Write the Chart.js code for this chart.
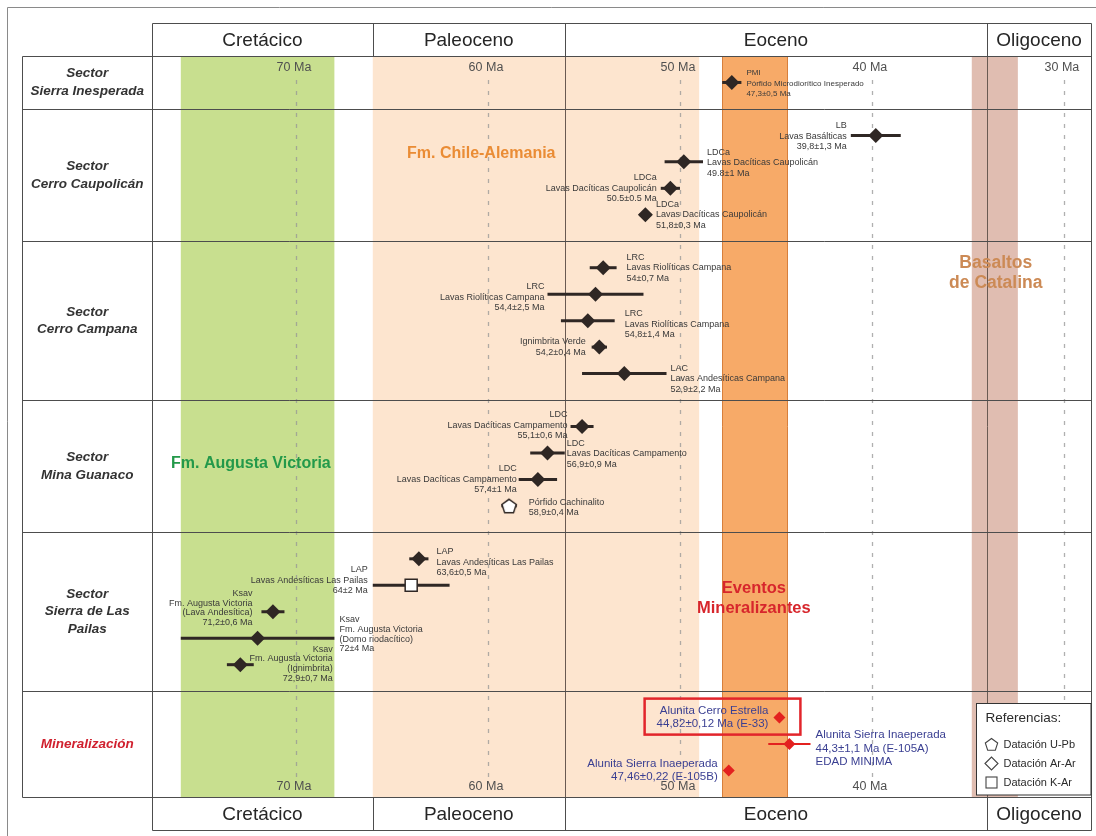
<!DOCTYPE html>
<html>
<head>
<meta charset="utf-8">
<script src="https://cdn.jsdelivr.net/npm/chart.js@4.4.1/dist/chart.umd.min.js"></script>
<style>
  html, body { margin: 0; padding: 0; background: #fff; }
  canvas { display: block; }
</style>
</head>
<body>
<canvas id="chart" width="1096" height="836"></canvas>
<script>
// ---------- time scale ----------
const periodNames = ['Cretácico', 'Paleoceno', 'Eoceno', 'Oligoceno'];
const periodBoundaries = [66, 56, 34];           // Ma
const tickValues = [70, 60, 50, 40, 30];
const tickLabels = ['70 Ma', '60 Ma', '50 Ma', '40 Ma', '30 Ma'];

// ---------- sectors (rows) ----------
const sectorNames = [
  ['Sector', 'Sierra Inesperada'],
  ['Sector', 'Cerro Caupolicán'],
  ['Sector', 'Cerro Campana'],
  ['Sector', 'Mina Guanaco'],
  ['Sector', 'Sierra de Las', 'Pailas'],
  ['Mineralización']
];

// ---------- geological units (age ranges, Ma) ----------
const unitNames = [['Fm. Augusta Victoria'], ['Fm. Chile-Alemania'], ['Eventos', 'Mineralizantes'], ['Basaltos', 'de Catalina']];
const unitOldest = [76, 66, 47.8, 34.8];
const unitYoungest = [68, 49, 44.4, 32.4];

// ---------- dated samples ----------
const sampleSector = [0, 1, 1, 1, 1, 2, 2, 2, 2, 2, 3, 3, 3, 3, 4, 4, 4, 4, 4, 5, 5, 5];
const sampleAge = [47.3, 39.8, 49.8, 50.5, 51.8, 54, 54.4, 54.8, 54.2, 52.9, 55.1, 56.9, 57.4, 58.9, 63.6, 64, 71.2, 72, 72.9, 44.82, 44.3, 47.46];
const sampleError = [0.5, 1.3, 1, 0.5, 0.3, 0.7, 2.5, 1.4, 0.4, 2.2, 0.6, 0.9, 1, 0.4, 0.5, 2, 0.6, 4, 0.7, 0.12, 1.1, 0.22];
const sampleMethod = ['Ar-Ar', 'Ar-Ar', 'Ar-Ar', 'Ar-Ar', 'Ar-Ar', 'Ar-Ar', 'Ar-Ar', 'Ar-Ar', 'Ar-Ar', 'Ar-Ar',
                      'Ar-Ar', 'Ar-Ar', 'Ar-Ar', 'U-Pb', 'Ar-Ar', 'K-Ar', 'Ar-Ar', 'Ar-Ar', 'Ar-Ar', 'Ar-Ar', 'Ar-Ar', 'Ar-Ar'];
const sampleLabel = [
  ['PMI', 'Pórfido Microdiorítico Inesperado', '47,3±0,5 Ma'],
  ['LB', 'Lavas Basálticas', '39,8±1,3 Ma'],
  ['LDCa', 'Lavas Dacíticas Caupolicán', '49.8±1 Ma'],
  ['LDCa', 'Lavas Dacíticas Caupolicán', '50.5±0.5 Ma'],
  ['LDCa', 'Lavas Dacíticas Caupolicán', '51,8±0,3 Ma'],
  ['LRC', 'Lavas Riolíticas Campana', '54±0,7 Ma'],
  ['LRC', 'Lavas Riolíticas Campana', '54,4±2,5 Ma'],
  ['LRC', 'Lavas Riolíticas Campana', '54,8±1,4 Ma'],
  ['Ignimbrita Verde', '54,2±0,4 Ma'],
  ['LAC', 'Lavas Andesíticas Campana', '52,9±2,2 Ma'],
  ['LDC', 'Lavas Dacíticas Campamento', '55,1±0,6 Ma'],
  ['LDC', 'Lavas Dacíticas Campamento', '56,9±0,9 Ma'],
  ['LDC', 'Lavas Dacíticas Campamento', '57,4±1 Ma'],
  ['Pórfido Cachinalito', '58,9±0,4 Ma'],
  ['LAP', 'Lavas Andesíticas Las Pailas', '63,6±0,5 Ma'],
  ['LAP', 'Lavas Andesíticas Las Pailas', '64±2 Ma'],
  ['Ksav', 'Fm. Augusta Victoria', '(Lava Andesítica)', '71,2±0,6 Ma'],
  ['Ksav', 'Fm. Augusta Victoria', '(Domo riodacítico)', '72±4 Ma'],
  ['Ksav', 'Fm. Augusta Victoria', '(Ignimbrita)', '72,9±0,7 Ma'],
  ['Alunita Cerro Estrella', '44,82±0,12 Ma (E-33)'],
  ['Alunita Sierra Inaeperada', '44,3±1,1 Ma (E-105A)', 'EDAD MINIMA'],
  ['Alunita Sierra Inaeperada', '47,46±0,22 (E-105B)']
];

// ---------- legend ----------
const legendTitle = 'Referencias:';
const legendMethods = ['U-Pb', 'Ar-Ar', 'K-Ar'];
const legendLabels = ['Datación U-Pb', 'Datación Ar-Ar', 'Datación K-Ar'];

// ================= layout & styles =================
const FONT = '"Liberation Sans", Arial, Helvetica, sans-serif';
const NARROW = '"Liberation Sans Narrow", "Liberation Sans", Arial, sans-serif';
const FRAME = { outer: 7.5, left: 22.5, headTop: 23.5, footBottom: 830.5 };
const PAD = { left: 152, top: 56, right: 5, bottom: 39 };
const AXIS_OLD = 77.5, AXIS_YOUNG = 28.59;
const INK = '#2f2724';
const RED = '#e3211f';
const LINE = '#4d4d4d';
const unitFill = ['#c8df8f', '#fde5cf', '#f7aa68', '#e0bdb1'];
const unitLabelStyle = [
  { age: 72.35, lane: 15.4, color: '#23994a', size: 16, lh: 20 },
  { age: 60.35, lane: 3.7, color: '#ea8c35', size: 16, lh: 20 },
  { age: 46.15, lane: 20.5, color: '#d7262c', size: 16.5, lh: 20 },
  { age: 33.55, lane: 8.2, color: '#cc8a55', size: 17.5, lh: 20 }
];
const plotBoundaryLines = [56, 34];
const MINERAL = sectorNames.length - 1;

// label placement per sample: side of the marker, gap in px, which line sits at marker height
const labelPlacement = [
  { side: 'r', gap: 5, anchor: 0.9, size: 8 },
  { side: 'l', gap: 4, anchor: 0.9 },
  { side: 'r', gap: 4, anchor: 0.9 },
  { side: 'l', gap: 4, anchor: 1 },
  { side: 'r', gap: 3, anchor: 1 },
  { side: 'r', gap: 10, anchor: 1 },
  { side: 'l', gap: 3, anchor: 0.7 },
  { side: 'r', gap: 10, anchor: 0.65 },
  { side: 'l', gap: 6, anchor: 0.5 },
  { side: 'r', gap: 4, anchor: 0.5 },
  { side: 'l', gap: 3, anchor: 1.1 },
  { side: 'r', gap: 2, anchor: 0.9 },
  { side: 'l', gap: 2, anchor: 1 },
  { side: 'r', gap: 12, anchor: 0.35 },
  { side: 'r', gap: 8, anchor: 0.65 },
  { side: 'l', gap: 5, anchor: 1.5 },
  { side: 'l', gap: 9, anchor: 1.9, lh: 9.7 },
  { side: 'r', gap: 5, anchor: 1.9, lh: 9.7 },
  { side: 'r', gap: 79, anchor: 1.6, lh: 9.7, align: 'right' },
  { side: 'l', gap: 5, anchor: 0.5, size: 11.5, lh: 13, boxed: true },
  { side: 'r', gap: 5, anchor: 0.65, size: 11.5, lh: 13.5 },
  { side: 'l', gap: 5, anchor: 0.5, size: 11.5, lh: 13.5 }
];

// ---------- lanes: one per sample, plus a spacer per sector ----------
const sectorCount = sectorNames.map((_, s) => sampleSector.filter(v => v === s).length);
const sectorStart = [];
let laneAcc = 0;
sectorCount.forEach((n, s) => { sectorStart[s] = laneAcc; laneAcc += n + 1; });
const laneTotal = laneAcc;
const sampleLane = sampleSector.map((s, i) =>
  sectorStart[s] + 1 + sampleSector.slice(0, i).filter(v => v === s).length);

// pentagon marker (U-Pb)
function pentagon(g, cx, cy, r) {
  g.beginPath();
  for (let k = 0; k < 5; k++) {
    const a = -Math.PI / 2 + k * 2 * Math.PI / 5;
    g.lineTo(cx + r * Math.cos(a), cy + r * Math.sin(a));
  }
  g.closePath();
}
function pentagonImage(size, fill, stroke, lw) {
  const c = document.createElement('canvas');
  c.width = size; c.height = size;
  const g = c.getContext('2d');
  pentagon(g, size / 2, size / 2 + 0.8, size / 2 - lw);
  g.fillStyle = fill; g.fill();
  g.lineWidth = lw; g.strokeStyle = stroke; g.stroke();
  return c;
}
const pentImg = pentagonImage(18, '#ffffff', INK, 1.5);

function markerHalf(i) {
  if (sampleSector[i] === MINERAL) return 6;
  if (sampleMethod[i] === 'U-Pb') return 7.5;
  if (sampleMethod[i] === 'K-Ar') return 5.7;
  return 7.5;
}

function points(filter) {
  return sampleAge.map((a, i) => ({ x: a, y: sampleLane[i], i })).filter(p => filter(p.i));
}

// ---------- drawing helpers ----------
function hLine(ctx, x1, x2, y) { ctx.beginPath(); ctx.moveTo(x1, y); ctx.lineTo(x2, y); ctx.stroke(); }
function vLine(ctx, x, y1, y2) { ctx.beginPath(); ctx.moveTo(x, y1); ctx.lineTo(x, y2); ctx.stroke(); }
const snap = v => Math.round(v) + 0.5;

const tableBackground = {
  id: 'tableBackground',
  beforeDraw(chart) {
    const ctx = chart.ctx;
    ctx.save();
    ctx.fillStyle = '#fff';
    ctx.fillRect(0, 0, chart.width, chart.height);
    ctx.restore();
  },
  beforeDatasetsDraw(chart) {
    const { ctx, chartArea: a, scales } = chart;
    const X = v => scales.x.getPixelForValue(v);
    const Y = v => scales.y.getPixelForValue(v);
    ctx.save();

    // outer frame
    ctx.strokeStyle = '#8a8a8a'; ctx.lineWidth = 1;
    hLine(ctx, FRAME.outer, chart.width, FRAME.outer);
    vLine(ctx, FRAME.outer, FRAME.outer, chart.height);

    // unit bands
    unitOldest.forEach((o, k) => {
      ctx.fillStyle = unitFill[k];
      ctx.fillRect(X(o), a.top, X(unitYoungest[k]) - X(o), a.bottom - a.top);
    });
    ctx.strokeStyle = '#d77f3c'; ctx.lineWidth = 1;
    vLine(ctx, snap(X(unitOldest[2])), a.top, a.bottom);
    vLine(ctx, snap(X(unitYoungest[2])), a.top, a.bottom);

    // dashed tick lines
    ctx.strokeStyle = 'rgba(150,150,150,0.75)'; ctx.lineWidth = 1.3;
    ctx.setLineDash([4, 7]);
    tickValues.forEach(t => vLine(ctx, Math.round(X(t)) + 0.5, a.top + 24, a.bottom - 18));
    ctx.setLineDash([]);

    // epoch boundaries through the plot
    ctx.strokeStyle = '#6a5a52'; ctx.lineWidth = 1;
    plotBoundaryLines.forEach(b => vLine(ctx, snap(X(b)), a.top, a.bottom));

    // table lines
    ctx.strokeStyle = LINE; ctx.lineWidth = 1;
    const rowEdges = sectorStart.concat([laneTotal]);
    rowEdges.forEach(r => hLine(ctx, FRAME.left, snap(a.right), snap(Y(r))));
    vLine(ctx, FRAME.left, snap(a.top), snap(a.bottom));
    vLine(ctx, snap(a.left), FRAME.headTop, FRAME.footBottom);
    vLine(ctx, snap(a.right), FRAME.headTop, FRAME.footBottom);

    // epoch header and footer
    const bands = [[FRAME.headTop, snap(a.top)], [snap(a.bottom), FRAME.footBottom]];
    const edges = [AXIS_OLD].concat(periodBoundaries).concat([AXIS_YOUNG]);
    bands.forEach(([y1, y2]) => {
      hLine(ctx, snap(a.left), snap(a.right), y1);
      hLine(ctx, snap(a.left), snap(a.right), y2);
      periodBoundaries.forEach(b => vLine(ctx, snap(X(b)), y1, y2));
      ctx.fillStyle = '#262626';
      ctx.font = '19px ' + NARROW;
      ctx.textAlign = 'center'; ctx.textBaseline = 'middle';
      periodNames.forEach((p, k) => {
        const cx = (X(edges[k]) + X(edges[k + 1])) / 2;
        ctx.fillText(p, cx, (y1 + y2) / 2 + 1);
      });
    });

    // sector names
    ctx.textAlign = 'center'; ctx.textBaseline = 'middle';
    ctx.font = 'italic bold 13.5px ' + FONT;
    sectorNames.forEach((lines, s) => {
      const cy = (Y(sectorStart[s]) + Y(sectorStart[s] + sectorCount[s] + 1)) / 2;
      ctx.fillStyle = s === MINERAL ? '#d0202e' : '#333';
      lines.forEach((t, j) => ctx.fillText(t, (FRAME.left + a.left) / 2, cy + (j - (lines.length - 1) / 2) * 17.5));
    });

    // tick labels, top and bottom rows
    ctx.fillStyle = '#505050';
    ctx.font = '12.5px ' + NARROW;
    tickValues.forEach((t, k) => {
      ctx.fillText(tickLabels[k], X(t) - 2, a.top + 12);
      ctx.fillText(tickLabels[k], X(t) - 2, a.bottom - 10);
    });

    // unit names
    unitNames.forEach((lines, k) => {
      const st = unitLabelStyle[k];
      ctx.fillStyle = st.color;
      ctx.font = 'bold ' + st.size + 'px ' + FONT;
      lines.forEach((t, j) => ctx.fillText(t, X(st.age), Y(st.lane) + (j - (lines.length - 1) / 2) * st.lh));
    });

    // error bars
    ctx.lineCap = 'butt';
    sampleAge.forEach((age, i) => {
      const red = sampleSector[i] === MINERAL;
      ctx.strokeStyle = red ? RED : INK;
      ctx.lineWidth = red ? 2 : 3;
      hLine(ctx, X(age + sampleError[i]), X(age - sampleError[i]), Y(sampleLane[i]));
    });
    ctx.restore();
  },
  afterDatasetsDraw(chart) {
    const { ctx, chartArea: a, scales } = chart;
    const X = v => scales.x.getPixelForValue(v);
    const Y = v => scales.y.getPixelForValue(v);
    ctx.save();

    // sample labels
    sampleAge.forEach((age, i) => {
      const p = labelPlacement[i];
      const lines = sampleLabel[i];
      const size = p.size || 9;
      const lh = p.lh || 10.5;
      const px = X(age), py = Y(sampleLane[i]);
      const barL = Math.min(X(age + sampleError[i]), px - markerHalf(i));
      const barR = Math.max(X(age - sampleError[i]), px + markerHalf(i));
      ctx.font = size + 'px ' + FONT;
      ctx.fillStyle = sampleSector[i] === MINERAL ? '#3a3f92' : '#3a3a3a';
      ctx.textBaseline = 'middle';
      let x, align;
      if (p.side === 'r') { x = barR + p.gap; align = p.align || 'left'; }
      else { x = barL - p.gap; align = 'right'; }
      ctx.textAlign = align;
      lines.forEach((t, j) => ctx.fillText(t, x, py + (j - p.anchor) * lh));
      if (p.boxed) {
        const w = Math.max(...lines.map(t => ctx.measureText(t).width));
        const left = x - w - 12;
        ctx.strokeStyle = '#e2252b'; ctx.lineWidth = 2.5;
        ctx.strokeRect(left, py - 19, px + 21 - left, 36);
      }
    });

    // legend box
    const lx = 976.5, ly = 703.5, lw = a.right - lx, lhgt = 795 - ly;
    ctx.fillStyle = '#fff';
    ctx.fillRect(lx, ly, lw, lhgt);
    ctx.strokeStyle = '#333'; ctx.lineWidth = 1;
    ctx.strokeRect(lx, ly, lw, lhgt);
    ctx.fillStyle = '#2b2b2b';
    ctx.textAlign = 'left'; ctx.textBaseline = 'middle';
    ctx.font = '13.5px ' + FONT;
    ctx.fillText(legendTitle, lx + 9, ly + 15);
    ctx.font = '11px ' + FONT;
    ctx.strokeStyle = '#444'; ctx.lineWidth = 1.1;
    legendMethods.forEach((m, k) => {
      const cy = ly + 41 + k * 19, cx = lx + 15;
      if (m === 'U-Pb') { pentagon(ctx, cx, cy + 0.5, 6.5); ctx.stroke(); }
      else if (m === 'Ar-Ar') {
        ctx.beginPath(); ctx.moveTo(cx - 6.5, cy); ctx.lineTo(cx, cy - 6.5); ctx.lineTo(cx + 6.5, cy); ctx.lineTo(cx, cy + 6.5); ctx.closePath(); ctx.stroke();
      } else { ctx.strokeRect(cx - 5.5, cy - 5.5, 11, 11); }
      ctx.fillText(legendLabels[k], lx + 27, cy + 0.5);
    });
    ctx.restore();
  }
};

new Chart(document.getElementById('chart'), {
  type: 'scatter',
  data: {
    datasets: [
      {
        label: 'Ar-Ar',
        data: points(i => sampleMethod[i] === 'Ar-Ar' && sampleSector[i] !== MINERAL),
        pointStyle: 'rectRot', pointRadius: 7.5, backgroundColor: INK, borderColor: INK, borderWidth: 0
      },
      {
        label: 'U-Pb',
        data: points(i => sampleMethod[i] === 'U-Pb'),
        pointStyle: pentImg, pointRadius: 8
      },
      {
        label: 'K-Ar',
        data: points(i => sampleMethod[i] === 'K-Ar'),
        pointStyle: 'rect', pointRadius: 8.5, backgroundColor: '#ffffff', borderColor: INK, borderWidth: 1.5
      },
      {
        label: 'Alunita',
        data: points(i => sampleSector[i] === MINERAL),
        pointStyle: 'rectRot', pointRadius: 6, backgroundColor: RED, borderColor: RED, borderWidth: 0
      }
    ]
  },
  options: {
    responsive: false,
    animation: false,
    layout: { padding: PAD, autoPadding: false },
    scales: {
      x: { type: 'linear', reverse: true, min: AXIS_YOUNG, max: AXIS_OLD, display: false },
      y: { type: 'linear', reverse: true, min: 0, max: laneTotal, display: false }
    },
    plugins: { legend: { display: false }, tooltip: { enabled: false } },
    events: []
  },
  plugins: [tableBackground]
});
</script>
</body>
</html>
